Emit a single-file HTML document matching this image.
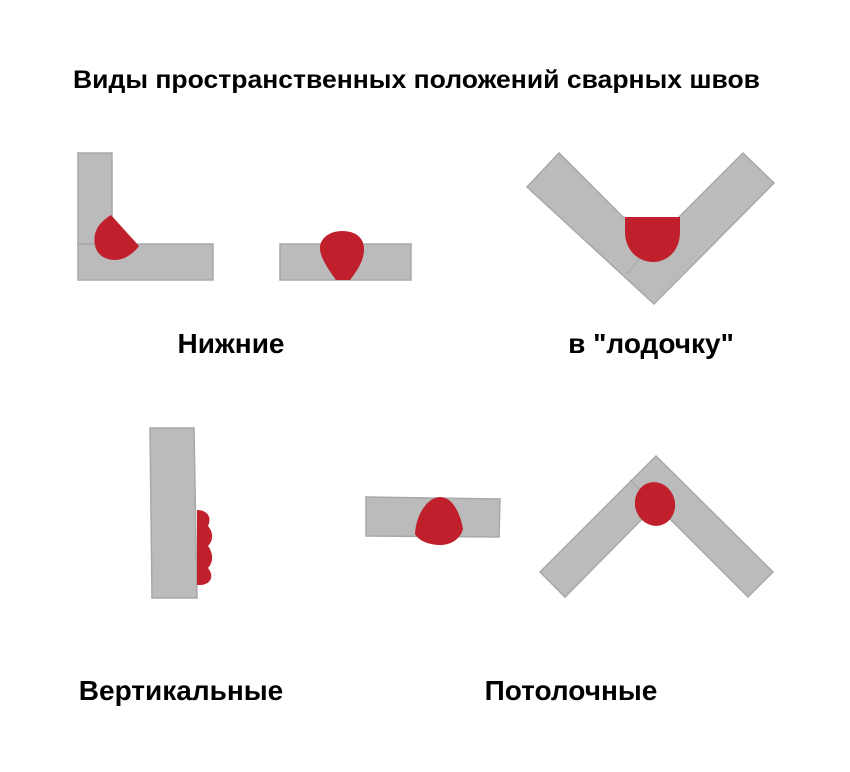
<!DOCTYPE html>
<html><head><meta charset="utf-8"><style>body{margin:0;background:#fff}svg{display:block}</style></head>
<body>
<svg width="850" height="772" viewBox="0 0 850 772" xmlns="http://www.w3.org/2000/svg" font-family="Liberation Sans, sans-serif" font-weight="bold" fill="#000">
<text x="73" y="88" font-size="25" textLength="687" lengthAdjust="spacingAndGlyphs">Виды пространственных положений сварных швов</text>
<g fill="#bbbbbb" stroke="#a8a8a8" stroke-width="1.5">
<rect x="78" y="153" width="34" height="91"/>
<rect x="78" y="244" width="135" height="36"/>
<rect x="280" y="244" width="131" height="36"/>
<polygon points="527,187 559,153 651,245 743,153 774,183 654,304"/>
<polygon points="150,428 194,428 197,598 152,598"/>
<polygon points="366,497 500,499 499,537 366,536"/>
<polygon points="656,456 773,572 748,597 656,505 565,597 540,572"/>
</g>
<g stroke="#a8a8a8" stroke-width="1.2">
<line x1="627" y1="274" x2="640" y2="258"/>
<line x1="78" y1="244" x2="96" y2="244"/>
<line x1="630" y1="480" x2="640" y2="490"/>
</g>
<g fill="#c0202b">
<path d="M111,215 L139,246 C130,258 118,262 108,259 C96,256 93,244 95,234 C97,226 103,220 111,215 Z"/>
<path d="M342,231 C356,231 364,238 364,249 C364,262 356,272 350,280 L336,280 C329,270 320,258 320,248 C320,238 330,231 342,231 Z"/>
<path d="M625,217 L680,217 L680,232 C680,250 668,262 653,262 C638,262 625,250 625,232 Z"/>
<path d="M197,510 C208,510 212,518 208,526 C214,533 213,541 208,546 C214,554 213,563 208,568 C214,575 212,584 201,585 L197,585 Z"/>
<path d="M440,497 C452,497 460,512 463,529 C460,540 450,545 440,545 C428,545 418,540 415,534 C416,514 428,497 440,497 Z"/>
<ellipse cx="655" cy="504" rx="20" ry="22" transform="rotate(-15 655 504)"/>
</g>
<g font-size="28" text-anchor="middle">
<text x="231" y="353">Нижние</text>
<text x="651" y="353">в "лодочку"</text>
<text x="181" y="700">Вертикальные</text>
<text x="571" y="700">Потолочные</text>
</g>
</svg>
</body></html>
